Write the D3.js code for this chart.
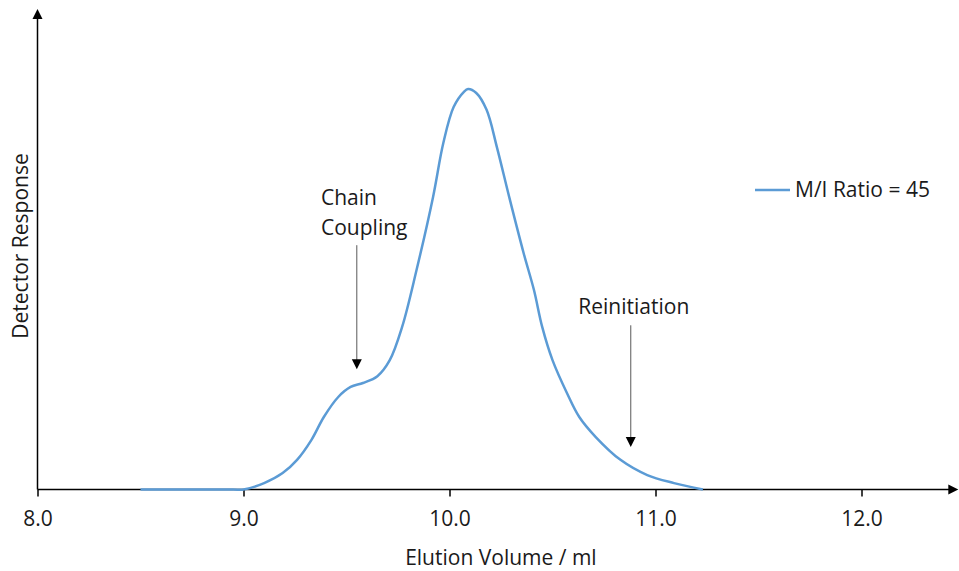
<html>
<head>
<style>
  body { margin: 0; background: #fff; }
  text { font-family: "Open Sans", "Noto Sans", sans-serif; fill: #1a1a1a; }
</style>
</head>
<body>
<svg id="chart"></svg>
<script src="https://d3js.org/d3.v7.min.js"></script>
<script>
  // elution volume (ml) and normalised detector response
  var volume = [8.50, 8.95, 9.00, 9.10, 9.19, 9.26, 9.33, 9.39, 9.46, 9.52, 9.58, 9.65, 9.71, 9.77, 9.84, 9.92, 9.97,
                10.02, 10.07, 10.09, 10.13, 10.18, 10.23, 10.29, 10.36, 10.41, 10.45, 10.50, 10.57, 10.63, 10.71, 10.83, 10.96, 11.09, 11.23];
  var response = [0, 0, 0, 0.016, 0.041, 0.074, 0.124, 0.181, 0.231, 0.256, 0.266, 0.283, 0.323, 0.406, 0.548, 0.730, 0.865,
                  0.955, 0.993, 1.0, 0.990, 0.948, 0.855, 0.730, 0.590, 0.498, 0.406, 0.323, 0.241, 0.181, 0.131, 0.074, 0.036, 0.016, 0];
  var xTicks = [8, 9, 10, 11, 12];
  var seriesName = "M/I Ratio = 45";
  var notes = [
    {lines: ["Chain", "Coupling"], x: 9.55, top: 0.61, tip: 0.30},
    {lines: ["Reinitiation"], x: 10.88, top: 0.41, tip: 0.106}
  ];

  var width = 959, height = 571;
  var svg = d3.select("#chart").attr("width", width).attr("height", height);

  var x = d3.scaleLinear().domain([8, 12.5]).range([37.5, 964.5]);
  var y = d3.scaleLinear().domain([0, 1.2]).range([489.5, 8.9]);

  var blue = "#5b9bd5";

  // axes
  svg.append("line").attr("x1", x(8)).attr("x2", x(12.47) - 8)
     .attr("y1", y(0)).attr("y2", y(0)).attr("stroke", "#000").attr("stroke-width", 1.5);
  svg.append("path").attr("d", "M" + x(12.47) + "," + y(0) + "l-10,-5v10z").attr("fill", "#000");

  svg.append("line").attr("x1", x(8)).attr("x2", x(8))
     .attr("y1", y(0)).attr("y2", y(1.2) + 9).attr("stroke", "#000").attr("stroke-width", 1.5);
  svg.append("path").attr("d", "M" + x(8) + "," + y(1.2) + "l-5,10h10z").attr("fill", "#000");

  var ax = svg.append("g").attr("transform", "translate(0," + y(0) + ")")
     .call(d3.axisBottom(x).tickValues(xTicks).tickFormat(d3.format(".1f")).tickSize(7).tickPadding(15));
  ax.select(".domain").remove();
  ax.selectAll(".tick line").attr("stroke", "#000").attr("stroke-width", 1.5);
  ax.selectAll(".tick text").attr("font-size", 21).attr("fill", "#1a1a1a")
     .attr("font-family", "'Open Sans', 'Noto Sans', sans-serif");

  svg.append("text").attr("x", (x(8) + x(12.47)) / 2 + 3).attr("y", 565)
     .attr("text-anchor", "middle").attr("font-size", 21).text("Elution Volume / ml");
  svg.append("text").attr("transform", "translate(28,246) rotate(-90)")
     .attr("text-anchor", "middle").attr("font-size", 21).text("Detector Response");

  // trace
  var line = d3.line().x(function (d, i) { return x(volume[i]); })
     .y(function (d) { return y(d); }).curve(d3.curveCatmullRom.alpha(0.5));
  svg.append("path").datum(response).attr("d", line)
     .attr("fill", "none").attr("stroke", blue).attr("stroke-width", 2.5);

  // annotations
  notes.forEach(function (n) {
    var xp = x(n.x);
    var tipY = y(n.tip);
    svg.append("line").attr("x1", xp).attr("x2", xp).attr("y1", y(n.top)).attr("y2", tipY - 8)
       .attr("stroke", "#595959").attr("stroke-width", 1);
    svg.append("path").attr("d", "M" + xp + "," + tipY + "l-5,-10h10z").attr("fill", "#000");
    var t = svg.append("text").attr("font-size", 21);
    if (n.lines.length > 1) {
      t.attr("x", 321).attr("y", 205);
      n.lines.forEach(function (l, i) {
        t.append("tspan").attr("x", 321).attr("dy", i ? 30 : 0).text(l);
      });
    } else {
      t.attr("x", xp + 3).attr("y", 314).attr("text-anchor", "middle").text(n.lines[0]);
    }
  });

  // legend
  svg.append("line").attr("x1", 755).attr("x2", 790).attr("y1", 190).attr("y2", 190)
     .attr("stroke", blue).attr("stroke-width", 2.5);
  svg.append("text").attr("x", 795).attr("y", 197).attr("font-size", 21).text(seriesName);
</script>
</body>
</html>
